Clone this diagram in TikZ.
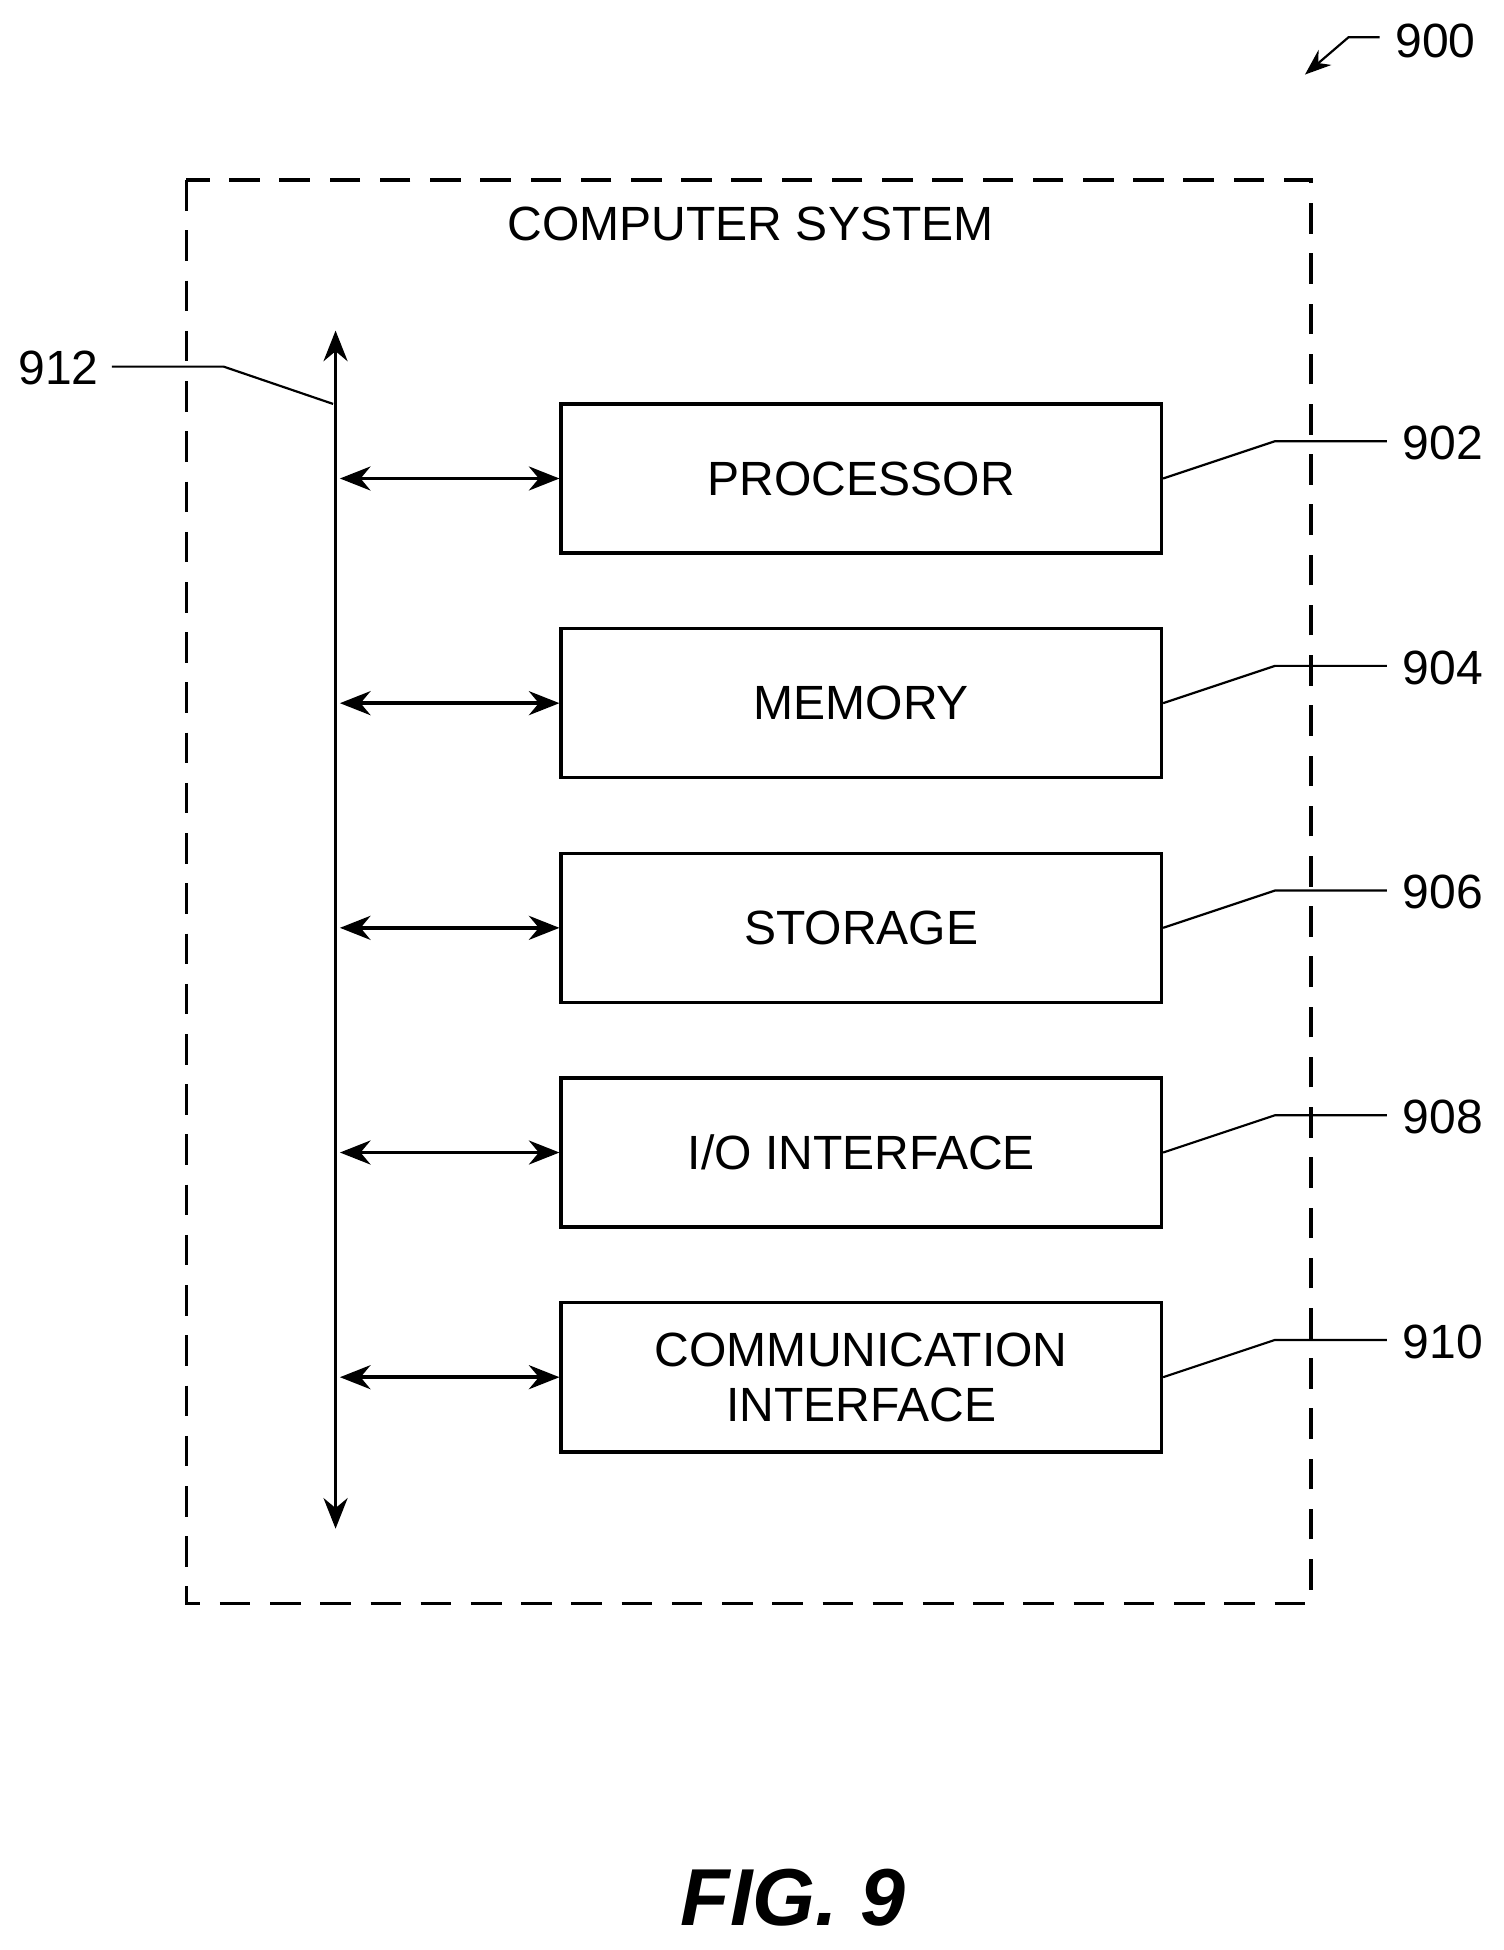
\documentclass[tikz,border=0pt]{standalone}
\usepackage{fontspec}
\setmainfont{Liberation Sans}
\usetikzlibrary{arrows.meta,positioning}
\begin{document}
\begin{tikzpicture}[x=0.02cm,y=-0.02cm,
      unit/.style={
         draw=black,
         line width=1.6pt,
         minimum width=9.66cm,
         minimum height=2.4cm,
         align=center,
         font=\fontsize{22}{27}\selectfont},
      busarrow/.style={
         {Stealth[length=14pt,width=11pt]}-{Stealth[length=14pt,width=11pt]},
         line width=1.6pt},
      leader/.style={line width=1pt},
      reflabel/.style={font=\fontsize{22}{27}\selectfont},
      ]
      \useasboundingbox (0,0) rectangle (1210,1569);
      % system frame
      \draw[line width=1.6pt,dash pattern=on 14pt off 9pt] (150,145) rectangle (1055,1290);
      \node[reflabel] (title) at (604,180) {COMPUTER SYSTEM};

      % bus
      \coordinate (bustop) at (270,266);
      \coordinate (busbot) at (270,1230);
      \draw[busarrow] (bustop) -- (busbot);

      % units
      \node[unit] (proc) at (693,385) {PROCESSOR};
      \node[unit,below=1.16cm of proc] (mem) {MEMORY};
      \node[unit,below=1.16cm of mem] (stor) {STORAGE};
      \node[unit,below=1.16cm of stor] (io) {I/O INTERFACE};
      \node[unit,below=1.16cm of io,align=center] (comm) {COMMUNICATION\\[-2pt]INTERFACE};

    \foreach \u/\n in {proc/902,mem/904,stor/906,io/908,comm/910}{
      \coordinate (b\u) at (270,0 |- \u.west);
      \draw[busarrow] ([xshift=2pt]b\u) -- (\u.west);
      \node[reflabel] (l\u) at ([xshift=4.5cm,yshift=0.57cm]\u.east) {\n};
      \draw[leader] (\u.east) -- ++(1.8cm,0.6cm) -- ++(1.8cm,0);
    }

      % bus reference
      \node[reflabel] (lbus) at (47,296) {912};
      \coordinate (bustap) at (268,325);
      \draw[leader] (90,295) -- (180,295) -- (bustap);

      % figure reference
      \node[reflabel] (lfig) at (1155,33) {900};
      \coordinate (figtip) at (1050,60);
      \draw[leader,-{Stealth[length=12pt,width=9pt]}] (1110,30) -- (1085,30) -- (figtip);

      \node[font=\fontsize{37}{44}\selectfont\bfseries\itshape] (cap) at (638,1527) {FIG. 9};
\end{tikzpicture}
\end{document}
